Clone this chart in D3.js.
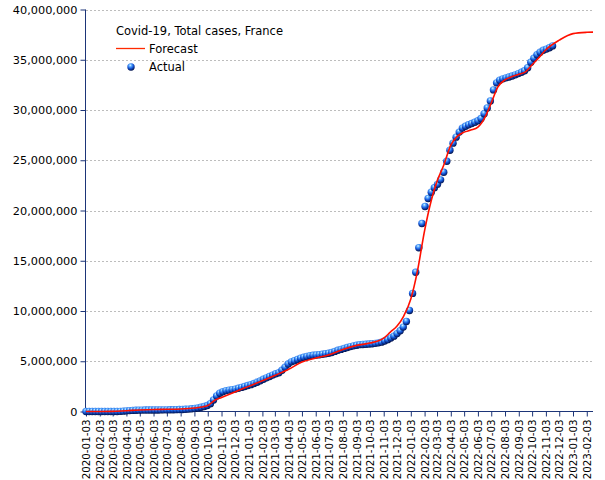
<!DOCTYPE html>
<html><head><meta charset="utf-8">
<script src="https://cdn.jsdelivr.net/npm/d3@7"></script>
<style>body{margin:0;background:#fff}svg{display:block}text{font-family:'DejaVu Sans',sans-serif}</style>
</head><body><svg id="c" width="605" height="480"></svg>
<script>
// ---------------- data ----------------
const chartTitle = "Covid-19, Total cases, France";
const legendLabels = ["Forecast", "Actual"];
const xTickLabels = [
 "2020-01-03","2020-02-03","2020-03-03","2020-04-03","2020-05-03","2020-06-03","2020-07-03","2020-08-03","2020-09-03","2020-10-03","2020-11-03","2020-12-03",
 "2021-01-03","2021-02-03","2021-03-03","2021-04-03","2021-05-03","2021-06-03","2021-07-03","2021-08-03","2021-09-03","2021-10-03","2021-11-03","2021-12-03",
 "2022-01-03","2022-02-03","2022-03-03","2022-04-03","2022-05-03","2022-06-03","2022-07-03","2022-08-03","2022-09-03","2022-10-03","2022-11-03","2022-12-03",
 "2023-01-03","2023-02-03"];
const yTickValues = [0, 5e6, 10e6, 15e6, 20e6, 25e6, 30e6, 35e6, 40e6];
const xDomain = ["2020-01-03", "2023-02-17"];
const actualFirstDate = "2020-01-03"; // weekly observations
// actual totals, millions, one per week
const actualValues = [
 0,0,0,0,0,0,0,0.0001,0.0003,0.001,0.004,0.014,0.033,
 0.065,0.09,0.11,0.125,0.135,0.14,0.143,0.145,0.15,
 0.152,0.155,0.158,0.162,0.166,0.171,0.177,0.185,0.195,
 0.205,0.22,0.24,0.27,0.31,0.36,0.42,0.5,0.6,0.78,1.15,1.55,1.82,
 1.97,2.08,2.13,2.18,2.23,2.31,2.4,2.49,2.58,2.67,2.79,2.91,3.05,
 3.21,3.35,3.48,3.62,3.75,3.86,4.1,4.4,4.72,4.94,5.05,5.18,5.31,
 5.4,5.48,5.56,5.59,5.62,5.65,5.7,5.75,5.8,5.87,5.98,6.09,6.18,
 6.28,6.37,6.46,6.53,6.59,6.65,6.67,6.69,6.71,6.74,6.78,6.83,6.9,
 7.02,7.15,7.32,7.5,7.75,8.03,8.4,8.95,10.05,11.75,13.85,16.3,18.7,
 20.4,21.2,21.82,22.27,22.6,23.05,23.8,24.9,26.0,26.7,27.3,27.8,28.2,
 28.38,28.53,28.65,28.78,28.93,29.15,29.63,30.2,30.9,32.0,32.7,32.97,33.1,
 33.2,33.28,33.38,33.5,33.62,33.75,33.9,34.2,34.75,35.15,35.5,35.75,35.95,
 36.06,36.2,36.38];
const forecastDates = [
 "2020-01-03","2020-02-03","2020-03-03","2020-04-03","2020-05-03","2020-06-03","2020-07-03","2020-08-03","2020-09-03","2020-10-03","2020-10-18","2020-11-03","2020-12-03",
 "2021-01-03","2021-02-03","2021-03-03","2021-04-03","2021-05-03","2021-06-03","2021-07-03","2021-08-03","2021-09-03","2021-10-03","2021-11-03","2021-11-18","2021-12-03","2021-12-18",
 "2022-01-03","2022-01-18","2022-02-03","2022-02-18","2022-03-03","2022-03-18","2022-04-03","2022-04-18","2022-05-03","2022-05-18","2022-06-03","2022-06-18",
 "2022-07-03","2022-07-18","2022-08-03","2022-08-18","2022-09-03","2022-09-18","2022-10-03","2022-10-18","2022-11-03","2022-12-03","2023-01-03","2023-02-03","2023-02-17"];
const forecastValues = [
 0,0,0.01,0.08,0.15,0.2,0.22,0.25,0.35,0.6,1.1,1.4,1.95,
 2.5,3.06,3.59,4.2,4.92,5.32,5.65,6.18,6.58,6.81,7.3,7.9,8.5,9.5,
 11.2,14.0,18.0,21.0,22.9,24.5,26.5,27.4,27.8,28.0,28.3,29.2,
 30.7,32.3,33.0,33.3,33.55,33.8,34.5,35.2,36.0,36.95,37.6,37.73,37.75];

// ---------------- chart ----------------
const parse = d3.timeParse("%Y-%m-%d");
const svg = d3.select("#c");
const x = d3.scaleTime().domain(xDomain.map(parse)).range([86, 593]);
const y = d3.scaleLinear().domain([0, 40e6]).range([411.5, 9.5]);
const axisColor = "#1d3578";

const defs = svg.append("defs");
const g = defs.append("radialGradient").attr("id", "ball")
  .attr("cx", "42%").attr("cy", "32%").attr("r", "68%").attr("fx", "40%").attr("fy", "26%");
g.append("stop").attr("offset", "0%").attr("stop-color", "#e2f3ff");
g.append("stop").attr("offset", "25%").attr("stop-color", "#5fb0ff");
g.append("stop").attr("offset", "58%").attr("stop-color", "#1658dc");
g.append("stop").attr("offset", "100%").attr("stop-color", "#00104a");

// grid
svg.append("g").selectAll("line").data(yTickValues.filter(v => v > 0)).join("line")
  .attr("x1", 86).attr("x2", 593)
  .attr("y1", d => Math.round(y(d)) + 0.5).attr("y2", d => Math.round(y(d)) + 0.5)
  .attr("stroke", "#bdbdbd").attr("stroke-width", 1).attr("stroke-dasharray", "2,2");

// y axis
const yAxis = svg.append("g").attr("transform", "translate(85.5,0)")
  .call(d3.axisLeft(y).tickValues(yTickValues).tickFormat(d3.format(",")).tickSize(5).tickPadding(3));
yAxis.selectAll("path,line").attr("stroke", axisColor);
yAxis.select("path").attr("d", `M0,${y(40e6)}V${y(0)}`);
yAxis.selectAll("text").attr("fill", "#000").style("font-size", "11.3px").style("font-family", "'DejaVu Sans',sans-serif");

// x axis
const xAxis = svg.append("g").attr("transform", `translate(0,${y(0)})`)
  .call(d3.axisBottom(x).tickValues(xTickLabels.map(parse)).tickFormat(d3.timeFormat("%Y-%m-%d")).tickSize(5));
xAxis.selectAll("path,line").attr("stroke", axisColor);
xAxis.select("path").attr("d", `M85.5,0H593`);
xAxis.selectAll("text")
  .attr("fill", "#000")
  .style("font-size", "10.3px").style("font-family", "'DejaVu Sans',sans-serif")
  .attr("text-anchor", "end")
  .attr("transform", "rotate(-90)")
  .attr("x", -8).attr("y", 0).attr("dy", "0.36em");

// actual points
const start = parse(actualFirstDate);
const actual = actualValues.map((v, i) => ({date: d3.timeDay.offset(start, 7 * i), value: v * 1e6}));
svg.append("g").selectAll("circle").data(actual).join("circle")
  .attr("cx", d => x(d.date)).attr("cy", d => y(d.value)).attr("r", 3.7)
  .attr("fill", "url(#ball)");

// forecast line
const forecast = forecastDates.map((d, i) => ({date: parse(d), value: forecastValues[i] * 1e6}));
svg.append("path").datum(forecast)
  .attr("fill", "none").attr("stroke", "#ff1000").attr("stroke-width", 1.6)
  .attr("d", d3.line().x(d => x(d.date)).y(d => y(d.value)).curve(d3.curveMonotoneX));

// legend
const lg = svg.append("g").style("font-size", "11.5px");
lg.append("text").attr("x", 116).attr("y", 35).text(chartTitle);
lg.append("line").attr("x1", 116).attr("x2", 145).attr("y1", 48.5).attr("y2", 48.5)
  .attr("stroke", "#ff2a00").attr("stroke-width", 1.3);
lg.append("text").attr("x", 149).attr("y", 52.5).text(legendLabels[0]);
lg.append("circle").attr("cx", 131).attr("cy", 67).attr("r", 3.7).attr("fill", "url(#ball)");
lg.append("text").attr("x", 149).attr("y", 71).text(legendLabels[1]);
</script></body></html>
